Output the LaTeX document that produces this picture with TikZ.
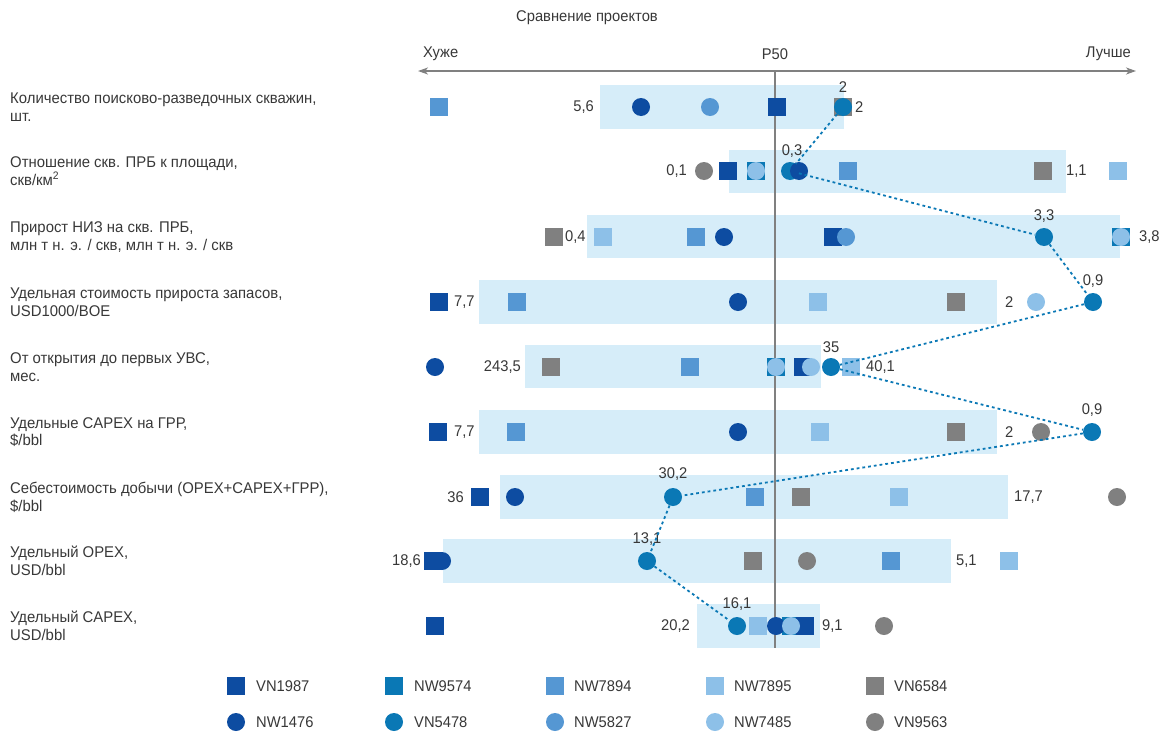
\documentclass[tikz,border=0pt]{standalone}
\usepackage{fontspec}
\setmainfont{Liberation Sans}
\newfontfamily\narrowfont[FakeStretch=0.95]{Liberation Sans}
\newfontfamily\captionfont[FakeStretch=0.96]{Liberation Sans}
\usetikzlibrary{arrows.meta}
\definecolor{cA}{HTML}{0D4CA1}
\definecolor{cB}{HTML}{0A78B5}
\definecolor{cC}{HTML}{5597D3}
\definecolor{cD}{HTML}{8DC0E8}
\definecolor{cG}{HTML}{808080}
\definecolor{bandc}{HTML}{D6EDF9}
\definecolor{txt}{HTML}{383838}
\tikzset{
  sq/.style={rectangle, minimum size=18pt, inner sep=0pt, fill=#1},
  cr/.style={circle, minimum size=18pt, inner sep=0pt, fill=#1},
  band/.style={fill=bandc},
  lbl/.style={inner sep=0pt, text=txt, font=\narrowfont\fontsize{15.5}{18}\selectfont},
  rowlbl/.style={inner sep=0pt, text=txt, font=\captionfont\fontsize{15.5}{17.7}\selectfont, anchor=west, align=left},
  axisline/.style={draw=cG, line width=1.8pt},
  trail/.style={draw=cB, line width=1.8pt, dash pattern=on 2.8pt off 3pt}
}
\begin{document}
\begin{tikzpicture}[x=1pt,y=-1pt]
\useasboundingbox (0,0) rectangle (1161,731);

% header
\node[lbl] (title) at (587,18) {Сравнение проектов};
\node[lbl, anchor=west] (worse) at (423,54) {Хуже};
\node[lbl] (p50) at (775,54) {P50};
\node[lbl, anchor=east] (better) at (1131,54) {Лучше};
\coordinate (axL) at (418,71);
\coordinate (axR) at (1136,71);
\draw[axisline, {Stealth[length=10pt,width=7pt,inset=3pt]}-{Stealth[length=10pt,width=7pt,inset=3pt]}] (axL) -- (axR);

% row captions
\node[rowlbl] (t1) at (10,107) {Количество поисково-разведочных скважин,\\шт.};
\node[rowlbl] (t2) at (10,171) {Отношение скв. ПРБ к площади,\\скв/км\textsuperscript{2}};
\node[rowlbl] (t3) at (10,237) {Прирост НИЗ на скв. ПРБ,\\млн т н. э. / скв, млн т н. э. / скв};
\node[rowlbl] (t4) at (10,302) {Удельная стоимость прироста запасов,\\USD1000/BOE};
\node[rowlbl] (t5) at (10,367) {От открытия до первых УВС,\\мес.};
\node[rowlbl] (t6) at (10,432) {Удельные CAPEX на ГРР,\\\$/bbl};
\node[rowlbl] (t7) at (10,497) {Себестоимость добычи (OPEX+CAPEX+ГРР),\\\$/bbl};
\node[rowlbl] (t8) at (10,561) {Удельный OPEX,\\USD/bbl};
\node[rowlbl] (t9) at (10,626) {Удельный CAPEX,\\USD/bbl};

% range bands
\fill[band] (600,85) rectangle (844,129);
\fill[band] (729,150) rectangle (1066,193);
\fill[band] (587,215) rectangle (1120,258);
\fill[band] (479,280) rectangle (997,324);
\fill[band] (525,345) rectangle (821,388);
\fill[band] (479,410) rectangle (997,454);
\fill[band] (500,475) rectangle (1008,519);
\fill[band] (443,539) rectangle (951,583);
\fill[band] (697,604) rectangle (820,648);

% P50 line
\coordinate (pTop) at (775,71);
\coordinate (pBot) at (775,648);
\draw[axisline] (pTop) -- (pBot);

% row 1
\node[sq=cC] (a1) at (439,107) {};
\node[cr=cA] (b1) at (641,107) {};
\node[cr=cC] (c1) at (710,107) {};
\node[sq=cA] (d1) at (777,107) {};
\node[sq=cG] (e1) at (843,107) {};
\node[cr=cB] (v1) at (843,107) {};
\node[lbl, anchor=east] (n1a) at (594,107) {5,6};
\node[lbl] (n1b) at (843,87) {2};
\node[lbl, anchor=west] (n1c) at (855,107) {2};

% row 2
\node[cr=cG] (a2) at (704,171) {};
\node[sq=cA] (b2) at (728,171) {};
\node[sq=cB] (c2) at (756,171) {};
\node[cr=cD] (d2) at (756,171) {};
\node[cr=cB] (v2) at (790,171) {};
\node[cr=cA] (e2) at (799,171) {};
\node[sq=cC] (f2) at (848,171) {};
\node[sq=cG] (g2) at (1043,171) {};
\node[sq=cD] (h2) at (1118,171) {};
\node[lbl, anchor=east] (n2a) at (687,171) {0,1};
\node[lbl] (n2b) at (792,151) {0,3};
\node[lbl, anchor=west] (n2c) at (1066,171) {1,1};

% row 3
\node[sq=cG] (a3) at (554,237) {};
\node[sq=cD] (b3) at (603,237) {};
\node[sq=cC] (c3) at (696,237) {};
\node[cr=cA] (d3) at (724,237) {};
\node[sq=cA] (e3) at (833,237) {};
\node[cr=cC] (f3) at (846,237) {};
\node[cr=cB] (v3) at (1044,237) {};
\node[sq=cB] (g3) at (1121,237) {};
\node[cr=cD] (h3) at (1121,237) {};
\node[lbl, anchor=west] (n3a) at (565,237) {0,4};
\node[lbl] (n3b) at (1044,216) {3,3};
\node[lbl, anchor=west] (n3c) at (1139,237) {3,8};

% row 4
\node[sq=cA] (a4) at (439,302) {};
\node[sq=cC] (b4) at (517,302) {};
\node[cr=cA] (c4) at (738,302) {};
\node[sq=cD] (d4) at (818,302) {};
\node[sq=cG] (e4) at (956,302) {};
\node[cr=cD] (f4) at (1036,302) {};
\node[cr=cB] (v4) at (1093,302) {};
\node[lbl, anchor=west] (n4a) at (454,302) {7,7};
\node[lbl, anchor=west] (n4b) at (1005,302) {2};
\node[lbl] (n4c) at (1093,281) {0,9};

% row 5
\node[cr=cA] (a5) at (435,367) {};
\node[sq=cG] (b5) at (551,367) {};
\node[sq=cC] (c5) at (690,367) {};
\node[sq=cB] (d5) at (776,367) {};
\node[cr=cD] (e5) at (776,367) {};
\node[sq=cA] (f5) at (803,367) {};
\node[cr=cD] (g5) at (811,367) {};
\node[cr=cB] (v5) at (831,367) {};
\node[sq=cD] (h5) at (851,367) {};
\node[lbl, anchor=east] (n5a) at (521,367) {243,5};
\node[lbl] (n5b) at (831,347) {35};
\node[lbl, anchor=west] (n5c) at (866,367) {40,1};

% row 6
\node[sq=cA] (a6) at (438,432) {};
\node[sq=cC] (b6) at (516,432) {};
\node[cr=cA] (c6) at (738,432) {};
\node[sq=cD] (d6) at (820,432) {};
\node[sq=cG] (e6) at (956,432) {};
\node[cr=cG] (f6) at (1041,432) {};
\node[cr=cB] (v6) at (1092,432) {};
\node[lbl, anchor=west] (n6a) at (454,432) {7,7};
\node[lbl, anchor=west] (n6b) at (1005,432) {2};
\node[lbl] (n6c) at (1092,410) {0,9};

% row 7
\node[sq=cA] (a7) at (480,497) {};
\node[cr=cA] (b7) at (515,497) {};
\node[cr=cB] (v7) at (673,497) {};
\node[sq=cC] (c7) at (755,497) {};
\node[sq=cG] (d7) at (801,497) {};
\node[sq=cD] (e7) at (899,497) {};
\node[cr=cG] (f7) at (1117,497) {};
\node[lbl, anchor=east] (n7a) at (464,497) {36};
\node[lbl] (n7b) at (673,474) {30,2};
\node[lbl, anchor=west] (n7c) at (1014,497) {17,7};

% row 8
\node[sq=cA] (a8) at (433,561) {};
\node[cr=cA] (b8) at (442,561) {};
\node[cr=cB] (v8) at (647,561) {};
\node[sq=cG] (c8) at (753,561) {};
\node[cr=cG] (d8) at (807,561) {};
\node[sq=cC] (e8) at (891,561) {};
\node[sq=cD] (f8) at (1009,561) {};
\node[lbl, anchor=east] (n8a) at (421,561) {18,6};
\node[lbl] (n8b) at (647,539) {13,1};
\node[lbl, anchor=west] (n8c) at (956,561) {5,1};

% row 9
\node[sq=cA] (a9) at (435,626) {};
\node[cr=cB] (v9) at (737,626) {};
\node[sq=cD] (b9) at (758,626) {};
\node[sq=cB] (c9) at (791,626) {};
\node[sq=cA] (d9) at (805,626) {};
\node[cr=cA] (e9) at (776,626) {};
\node[cr=cD] (f9) at (791,626) {};
\node[cr=cG] (g9) at (884,626) {};
\node[lbl, anchor=east] (n9a) at (690,626) {20,2};
\node[lbl] (n9b) at (737,604) {16,1};
\node[lbl, anchor=west] (n9c) at (822,626) {9,1};

% VN5478 trail
\draw[trail] (v1) -- (v2) -- (v3) -- (v4) -- (v5) -- (v6) -- (v7) -- (v8) -- (v9);

% legend
\node[sq=cA] (k1) at (236,686) {};
\node[sq=cB] (k2) at (394,686) {};
\node[sq=cC] (k3) at (555,686) {};
\node[sq=cD] (k4) at (715,686) {};
\node[sq=cG] (k5) at (875,686) {};
\node[cr=cA] (k6) at (236,722) {};
\node[cr=cB] (k7) at (394,722) {};
\node[cr=cC] (k8) at (555,722) {};
\node[cr=cD] (k9) at (715,722) {};
\node[cr=cG] (k10) at (875,722) {};
\node[lbl, anchor=west] (m1) at (256,686) {VN1987};
\node[lbl, anchor=west] (m2) at (414,686) {NW9574};
\node[lbl, anchor=west] (m3) at (574,686) {NW7894};
\node[lbl, anchor=west] (m4) at (734,686) {NW7895};
\node[lbl, anchor=west] (m5) at (894,686) {VN6584};
\node[lbl, anchor=west] (m6) at (256,722) {NW1476};
\node[lbl, anchor=west] (m7) at (414,722) {VN5478};
\node[lbl, anchor=west] (m8) at (574,722) {NW5827};
\node[lbl, anchor=west] (m9) at (734,722) {NW7485};
\node[lbl, anchor=west] (m10) at (894,722) {VN9563};
\end{tikzpicture}
\end{document}
